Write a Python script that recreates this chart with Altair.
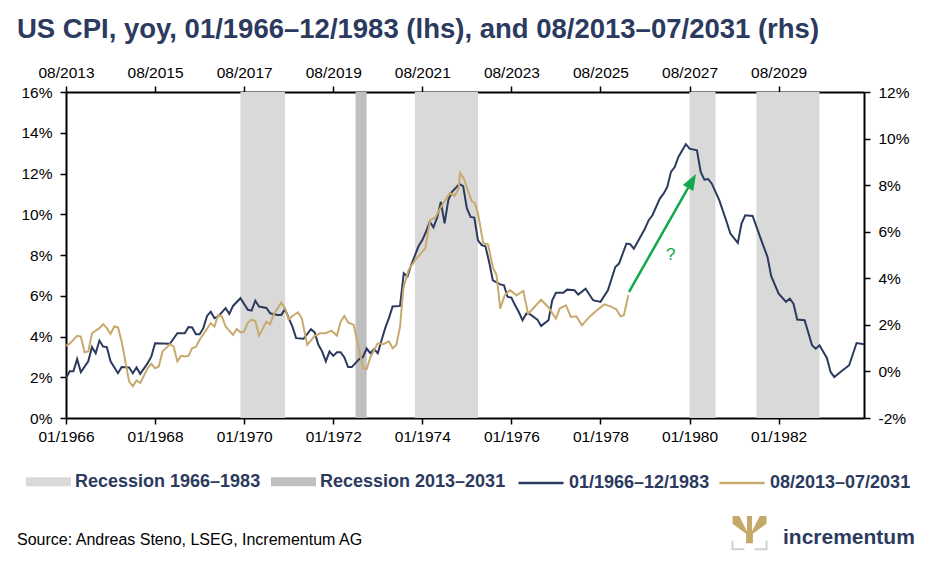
import altair as alt
import pandas as pd

NAVY = "#2B3A5E"
GOLD = "#C8AA6E"
GREEN = "#12A84B"
LIGHT = "#D9D9D9"
DARK = "#BFBFBF"
FONT = "Liberation Sans"

title_text = "US CPI, yoy, 01/1966–12/1983 (lhs), and 08/2013–07/2031 (rhs)"
source_text = "Source: Andreas Steno, LSEG, Incrementum AG"
logo_text = "incrementum"

# month index 0 = 01/1966 (bottom axis) = 08/2013 (top axis)
tick_months = [0, 24, 48, 72, 96, 120, 144, 168, 192]
bottom_tick_labels = ["01/1966", "01/1968", "01/1970", "01/1972", "01/1974",
                      "01/1976", "01/1978", "01/1980", "01/1982"]
top_tick_labels = ["08/2013", "08/2015", "08/2017", "08/2019", "08/2021",
                   "08/2023", "08/2025", "08/2027", "08/2029"]
left_ticks = [0, 2, 4, 6, 8, 10, 12, 14, 16]
right_ticks = [-2, 0, 2, 4, 6, 8, 10, 12]

# US CPI yoy 01/1966-12/1983 (lhs, %)
blue_months = [0, 1, 2, 3, 4, 6, 7, 8, 9, 10, 11, 12, 14, 15, 17, 18, 19, 20, 22, 23,
               24, 28, 30, 32, 33, 34, 35, 36, 37, 38, 39, 40, 41, 43, 44, 45, 47, 49, 50, 51,
               52, 54, 55, 57, 58, 59, 60, 61, 62, 64, 66, 67, 68, 69, 70, 71, 72, 73, 74, 75,
               76, 77, 79, 80, 81, 82, 83, 84, 85, 86, 87, 88, 90, 91, 92, 93, 95, 96, 97, 98,
               99, 100, 101, 102, 103, 104, 106, 107, 108, 109, 110, 111, 112, 113, 114, 115, 117, 118, 119, 120,
               121, 122, 123, 124, 125, 127, 128, 130, 131, 132, 134, 135, 137, 138, 140, 142, 144, 146, 148, 149,
               151, 152, 153, 155, 156, 157, 158, 160, 161, 162, 163, 164, 165, 167, 168, 170, 171, 172, 173, 174,
               176, 178, 179, 181, 182, 183, 185, 187, 189, 190, 192, 194, 195, 196, 197, 199, 201, 202, 203, 205,
               206, 207, 209, 211, 213, 215]
blue_values = [1.96, 2.29, 2.29, 2.89, 2.25, 2.78, 3.48, 3.18, 3.80, 3.51, 3.48, 2.78, 2.20, 2.50, 2.48, 2.20, 2.48, 2.17, 2.69, 3.02,
               3.67, 3.64, 4.16, 4.16, 4.46, 4.44, 4.11, 4.11, 4.41, 5.01, 5.22, 4.90, 4.98, 5.39, 5.11, 5.50, 5.88, 5.31, 5.27, 5.76,
               5.47, 5.40, 5.14, 5.06, 5.06, 5.34, 4.90, 4.49, 3.92, 3.89, 4.36, 4.20, 3.59, 3.27, 2.78, 3.27, 3.05, 3.23, 3.23, 2.97,
               2.50, 2.50, 2.89, 2.99, 3.41, 3.18, 3.38, 3.18, 3.80, 4.41, 4.90, 5.47, 5.50, 7.10, 6.94, 7.51, 8.44, 8.73, 9.14, 9.63,
               9.36, 9.84, 10.61, 9.55, 10.69, 11.10, 11.48, 11.38, 10.30, 9.87, 9.84, 8.72, 8.48, 8.43, 7.66, 6.76, 6.56, 6.51, 5.94, 5.91,
               5.53, 5.20, 4.80, 5.12, 5.09, 4.83, 4.52, 4.80, 5.78, 6.15, 6.15, 6.30, 6.27, 6.06, 6.35, 5.78, 5.70, 6.27, 7.41, 7.58,
               8.56, 8.53, 8.31, 8.97, 9.30, 9.71, 9.95, 10.77, 11.01, 11.34, 12.08, 12.32, 12.81, 13.44, 13.22, 13.14, 12.08, 11.70, 11.73, 11.50,
               10.69, 9.62, 9.05, 8.59, 9.54, 9.95, 9.92, 8.89, 7.90, 6.96, 6.10, 5.70, 5.86, 5.61, 4.83, 4.80, 3.57, 3.40, 3.57, 2.95,
               2.26, 2.01, 2.31, 2.59, 3.68, 3.62]

# US CPI yoy 08/2013-... (rhs, %)
gold_months = [0, 1, 3, 4, 5, 6, 7, 9, 10, 11, 12, 13, 14, 15, 16, 17, 18, 19, 20, 22,
               23, 24, 25, 26, 28, 29, 30, 31, 32, 33, 34, 35, 36, 39, 40, 41, 42, 43, 45, 46,
               47, 48, 49, 50, 51, 52, 54, 55, 56, 58, 59, 60, 61, 62.5, 63.5, 65, 66, 67, 68.5, 70,
               71.5, 73, 74, 75, 76, 77.5, 79, 80, 81, 82, 84, 85.5, 87, 88, 89, 90, 90.9, 92.3, 94.1, 95.6,
               96.8, 98.1, 99.5, 100.8, 103.4, 104.7, 105.8, 106.2, 107.2, 108.4, 109.3, 110.2, 111, 112.4, 113.7, 115, 116, 117, 118.2, 119.6,
               121.4, 123.2, 124.5, 125.4, 128, 129.9, 132, 133, 134.7, 136, 137.5, 139, 141, 142.5, 145, 147, 148.3, 149.4, 150.3, 151.5]
gold_values = [1.10, 1.19, 1.53, 1.50, 0.82, 0.86, 1.64, 1.86, 2.03, 1.86, 1.61, 1.93, 1.89, 1.29, 0.43, -0.43, -0.64, -0.39, -0.50, 0.14,
               0.33, 0.14, 0.21, 0.86, 1.17, 1.07, 0.43, 0.67, 0.64, 0.67, 1.00, 1.05, 1.36, 2.07, 1.93, 2.43, 2.36, 1.93, 1.57, 1.82,
               1.68, 1.71, 2.10, 2.22, 2.17, 1.53, 2.14, 2.03, 2.47, 2.96, 2.72, 2.22, 2.38, 2.54, 2.29, 1.14, 1.33, 1.53, 1.64, 1.64,
               1.75, 1.54, 2.14, 2.38, 2.10, 2.00, 0.93, 0.14, 0.10, 0.60, 1.21, 1.17, 1.29, 1.00, 1.14, 1.93, 3.57, 4.36, 4.79, 5.07,
               5.29, 6.50, 6.61, 7.00, 7.67, 7.53, 7.86, 8.53, 8.28, 7.71, 7.32, 7.21, 6.78, 5.52, 5.46, 4.48, 4.13, 2.70, 3.27, 3.49,
               3.27, 3.46, 2.48, 2.63, 3.08, 2.77, 2.27, 2.70, 2.84, 2.34, 2.37, 1.98, 2.34, 2.55, 2.88, 2.77, 2.66, 2.37, 2.41, 3.27]

assert len(blue_months) == len(blue_values)
assert len(gold_months) == len(gold_values)

# recessions: start month index, end month index (exclusive)
band_start = [47, 94, 168, 186, 78]
band_end = [59, 111, 175, 203, 81]
band_group = ["Recession 1966–1983"] * 4 + ["Recession 2013–2031"]

blue_name = "01/1966–12/1983"
gold_name = "08/2013–07/2031"

# annotation arrow (month index, rhs %)
arrow_start = [151.7, 3.42]
arrow_end = [167.6, 7.88]
question_pos = [162.9, 5.0]

blue_df = pd.DataFrame({"month": blue_months, "value": blue_values, "series": blue_name})
gold_df = pd.DataFrame({"month": gold_months, "value": gold_values, "series": gold_name})
bands_df = pd.DataFrame({"start": band_start, "end": band_end, "group": band_group})
arrow_df = pd.DataFrame({"x": [arrow_start[0]], "y": [arrow_start[1]],
                         "x2": [arrow_end[0]], "y2": [arrow_end[1]]})
head_df = pd.DataFrame({"x": [arrow_end[0]], "y": [arrow_end[1]]})
q_df = pd.DataFrame({"x": [question_pos[0]], "y": [question_pos[1]], "t": ["?"]})


def arr(labels):
    return "[" + ",".join("'" + s + "'" for s in labels) + "]"


axis_common = dict(domainColor="black", domainWidth=2, tickColor="black", tickWidth=1.5,
                   tickSize=6, labelColor="black", labelFont=FONT, grid=False, title=None,
                   labelFlush=False, labelOverlap=False, labelFontSize=15.5)

x_scale = alt.Scale(domain=[0, 215], nice=False, zero=False)
x_axis_bottom = alt.Axis(orient="bottom", values=tick_months,
                         labelExpr=arr(bottom_tick_labels) + "[round(datum.value/24)]",
                         labelPadding=5, **axis_common)
x_axis_top = alt.Axis(orient="top", values=tick_months,
                      labelExpr=arr(top_tick_labels) + "[round(datum.value/24)]",
                      labelPadding=6, **axis_common)
yl_scale = alt.Scale(domain=[0, 16], nice=False, zero=False)
yr_scale = alt.Scale(domain=[-2, 12], nice=False, zero=False)
y_axis_left = alt.Axis(orient="left", values=left_ticks, labelExpr="datum.value + '%'",
                       labelPadding=8, **axis_common)
y_axis_right = alt.Axis(orient="right", values=right_ticks, labelExpr="datum.value + '%'",
                        labelPadding=8, **axis_common)

legend_common = dict(title=None, orient="none", direction="horizontal", symbolSize=2025,
                     labelFont=FONT, labelFontSize=18, labelFontWeight="bold", labelColor=NAVY,
                     labelOffset=4, labelLimit=400, padding=0)
fill_legend = alt.Legend(legendX=-40, legendY=367, symbolType="M-1,-0.2H1V0.2H-1Z",
                         symbolStrokeWidth=0, columnPadding=10, **legend_common)
stroke_legend = alt.Legend(legendX=451, legendY=367, symbolType="stroke",
                           symbolStrokeWidth=2.5, columnPadding=4, **legend_common)

fill_scale = alt.Scale(domain=["Recession 1966–1983", "Recession 2013–2031"], range=[LIGHT, DARK])
stroke_scale = alt.Scale(domain=[blue_name, gold_name], range=[NAVY, GOLD])

bands = alt.Chart(bands_df).mark_rect().encode(
    x=alt.X("start:Q", scale=x_scale, axis=x_axis_bottom),
    x2="end:Q",
    fill=alt.Fill("group:N", scale=fill_scale, legend=fill_legend),
)
blue = alt.Chart(blue_df).mark_line(strokeWidth=2).encode(
    x=alt.X("month:Q", scale=x_scale, axis=x_axis_bottom),
    y=alt.Y("value:Q", scale=yl_scale, axis=y_axis_left),
    stroke=alt.Stroke("series:N", scale=stroke_scale, legend=stroke_legend),
)
left = alt.layer(bands, blue)

gold = alt.Chart(gold_df).mark_line(strokeWidth=2).encode(
    x=alt.X("month:Q", scale=x_scale, axis=x_axis_top),
    y=alt.Y("value:Q", scale=yr_scale, axis=y_axis_right),
    stroke=alt.Stroke("series:N", scale=stroke_scale, legend=stroke_legend),
)
arrow_line = alt.Chart(arrow_df).mark_rule(color=GREEN, strokeWidth=2.5).encode(
    x=alt.X("x:Q", scale=x_scale, axis=x_axis_top),
    y=alt.Y("y:Q", scale=yr_scale, axis=y_axis_right),
    x2="x2:Q", y2="y2:Q",
)
arrow_head = alt.Chart(head_df).mark_point(
    shape="M0,-2L0.75,0L-0.75,0Z", size=256, angle=29.5, filled=True,
    color=GREEN, opacity=1, strokeWidth=0,
).encode(
    x=alt.X("x:Q", scale=x_scale, axis=x_axis_top),
    y=alt.Y("y:Q", scale=yr_scale, axis=y_axis_right),
)
qmark = alt.Chart(q_df).mark_text(color=GREEN, fontSize=17, font=FONT).encode(
    x=alt.X("x:Q", scale=x_scale, axis=x_axis_top),
    y=alt.Y("y:Q", scale=yr_scale, axis=y_axis_right),
    text="t:N",
)
right = alt.layer(gold, arrow_line, arrow_head, qmark)

source = alt.Chart(pd.DataFrame({"t": [source_text]})).mark_text(
    align="left", baseline="middle", font=FONT, fontSize=16, color="black"
).encode(text="t:N", x=alt.value(-49), y=alt.value(448))
logo = alt.Chart(pd.DataFrame({"t": [logo_text]})).mark_text(
    align="left", baseline="alphabetic", font=FONT, fontSize=21, fontWeight="bold", color=NAVY
).encode(text="t:N", x=alt.value(717), y=alt.value(452))
logo_tree = alt.Chart(pd.DataFrame({"a": [0]})).mark_point(
    shape="M-1,-1L-0.6,-1L-0.15,-0.1L-0.15,-1L0.15,-1L0.15,-0.1L0.6,-1L1,-1L1,-0.55L0.2,0.05L0.2,0.6L-0.2,0.6L-0.2,0.05L-1,-0.55Z",
    size=1156, filled=True, color="#C4A96B", opacity=1, strokeWidth=0,
).encode(x=alt.value(683.5), y=alt.value(441))
logo_base = alt.Chart(pd.DataFrame({"a": [0]})).mark_point(
    shape="M-1,0.45L-1,0.95L-0.3,0.95M0.3,0.95L1,0.95L1,0.45",
    size=1156, filled=False, color="#D0D0D0", opacity=1, strokeWidth=2,
).encode(x=alt.value(683.5), y=alt.value(441))

chart = alt.layer(left, right, source, logo, logo_tree, logo_base).resolve_scale(
    x="independent", y="independent"
).properties(
    width=798, height=326,
    title=alt.TitleParams(text=title_text, anchor="start", frame="group", dx=-49, offset=0,
                          fontSize=27.5, fontWeight="bold", font=FONT, color=NAVY,
                          baseline="alphabetic"),
    autosize=alt.AutoSizeParams(type="none"),
    padding={"left": 58, "top": 84, "right": 55, "bottom": 140},
).configure_view(strokeWidth=0)

chart.save("out.html", embed_options={"renderer": "svg", "actions": False})
